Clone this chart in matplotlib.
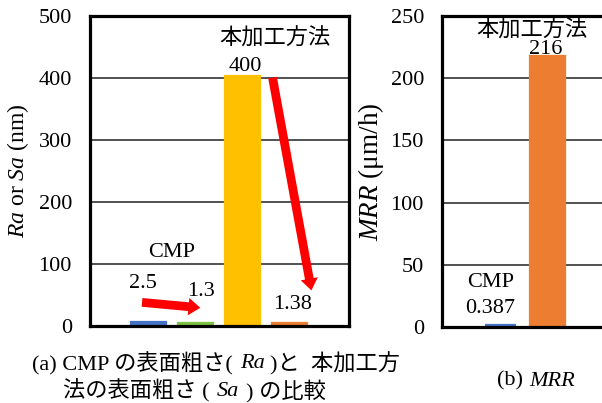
import matplotlib
matplotlib.use("Agg")
import matplotlib.pyplot as plt
from matplotlib.patches import FancyArrowPatch, ArrowStyle

SERIF = "Liberation Serif"
CJK = "Noto Sans CJK JP"
plt.rcParams["font.family"] = [SERIF, CJK]
plt.rcParams["mathtext.fontset"] = "custom"
plt.rcParams["mathtext.rm"] = SERIF
plt.rcParams["mathtext.it"] = SERIF + ":italic"

# (a) surface roughness: CMP Ra before/after, 本加工方法 Sa before/after
rough_values = [2.5, 1.3, 400, 1.38]
rough_colors = ["#4472C4", "#7DC242", "#FFC000", "#ED7D31"]
rough_ticks = [0, 100, 200, 300, 400, 500]

# (b) material removal rate
mrr_values = [0.387, 216]
mrr_colors = ["#4472C4", "#ED7D31"]
mrr_ticks = [0, 50, 100, 150, 200, 250]

W, H = 602, 403
fig = plt.figure(figsize=(W / 100, H / 100), dpi=100)

FS = 16
BAR_W = 0.655
EDGE = 4.5   # same-colour outline keeps the near-zero bars visible


def px_axes(left, top, right, bottom):
    return fig.add_axes([left / W, (H - bottom) / H, (right - left) / W, (bottom - top) / H])


def style_axes(ax, ticks):
    ax.set_ylim(ticks[0], ticks[-1])
    ax.set_yticks(ticks)
    ax.set_xlim(-1.25, 4.27)
    ax.set_xticks([])
    ax.tick_params(axis="y", length=0, pad=13, labelsize=FS)
    for lab in ax.get_yticklabels():
        lab.set_fontfamily(SERIF)
    for sp in ax.spines.values():
        sp.set_linewidth(2.3)
        sp.set_color("black")
    for t in ticks[1:-1]:
        ax.axhline(t, color="#222222", lw=1.1, zorder=1)


def fmt(v):
    return f"{v:g}"


# ---------------- (a) ----------------
ax1 = px_axes(90, 16, 349, 326)
style_axes(ax1, rough_ticks)
x1 = list(range(len(rough_values)))
ax1.bar(x1, rough_values, width=BAR_W, color=rough_colors,
        edgecolor=rough_colors, linewidth=EDGE, joinstyle="miter", zorder=2)
ax1.set_ylabel(r"$\it{Ra}$ or $\it{Sa}$ (nm)", fontsize=17)
ax1.yaxis.set_label_coords(-0.228, 0.5)

ax1.text(2.69, 464, "本加工方法", fontsize=FS, family=[CJK], ha="center", va="center")
ax1.text(0.5, 118, "CMP", fontsize=FS, ha="center", va="center")
ax1.text(-0.12, 69, fmt(rough_values[0]), fontsize=FS, ha="center", va="center")
ax1.text(1.12, 56, fmt(rough_values[1]), fontsize=FS, ha="center", va="center")
ax1.text(2.05, 418, fmt(rough_values[2]), fontsize=FS, ha="center", va="center")
ax1.text(3.07, 34, fmt(rough_values[3]), fontsize=FS, ha="center", va="center")

arrow_style = ArrowStyle.Simple(head_length=8.5, head_width=12.5, tail_width=6.3)
for (xa, ya), (xb, yb) in [((-0.2, 38.5), (1.16, 29)), ((2.63, 405), (3.48, 53))]:
    ax1.add_patch(FancyArrowPatch((xa, ya), (xb, yb), arrowstyle=arrow_style,
                                  mutation_scale=1, color="#FF0000", lw=0,
                                  zorder=4, clip_on=False))

# ---------------- (b) ----------------
ax2 = px_axes(442, 16, 701, 327)
style_axes(ax2, mrr_ticks)
x2 = list(range(len(mrr_values)))
ax2.bar(x2, mrr_values, width=BAR_W, color=mrr_colors,
        edgecolor=mrr_colors, linewidth=EDGE, joinstyle="miter", zorder=2)
ax2.set_ylabel(r"$\it{MRR}$ ($\mathregular{\mu}$m/h)", fontsize=19.5)
ax2.yaxis.set_label_coords(-0.218, 0.5)

ax2.text(0.95, 223, fmt(mrr_values[1]), fontsize=FS, ha="center", va="center", zorder=5)
ax2.text(0.67, 239, "本加工方法", fontsize=FS, family=[CJK], ha="center", va="center",
         zorder=6)
ax2.text(-0.22, 36, "CMP", fontsize=FS, ha="center", va="center")
ax2.text(-0.22, 15, fmt(mrr_values[0]), fontsize=FS, ha="center", va="center")

# ---------------- captions ----------------
renderer = fig.canvas.get_renderer()


def chain(x_px, y_px, pieces):
    x = x_px
    for s, style, gap in pieces:
        t = fig.text(x / W, 1 - y_px / H, s, fontsize=FS, style=style,
                     va="center", ha="left")
        bb = t.get_window_extent(renderer)
        x = bb.x1 + gap


chain(32, 364, [("(a) CMP の表面粗さ(", "normal", 7),
                ("Ra", "italic", 6),
                (")と  本加工方", "normal", 0)])
chain(63, 391, [("法の表面粗さ (", "normal", 7),
                ("Sa", "italic", 7),
                (") の比較", "normal", 0)])
chain(497, 381, [("(b)", "normal", 6), ("MRR", "italic", 0)])

fig.savefig("out.png", dpi=100)
